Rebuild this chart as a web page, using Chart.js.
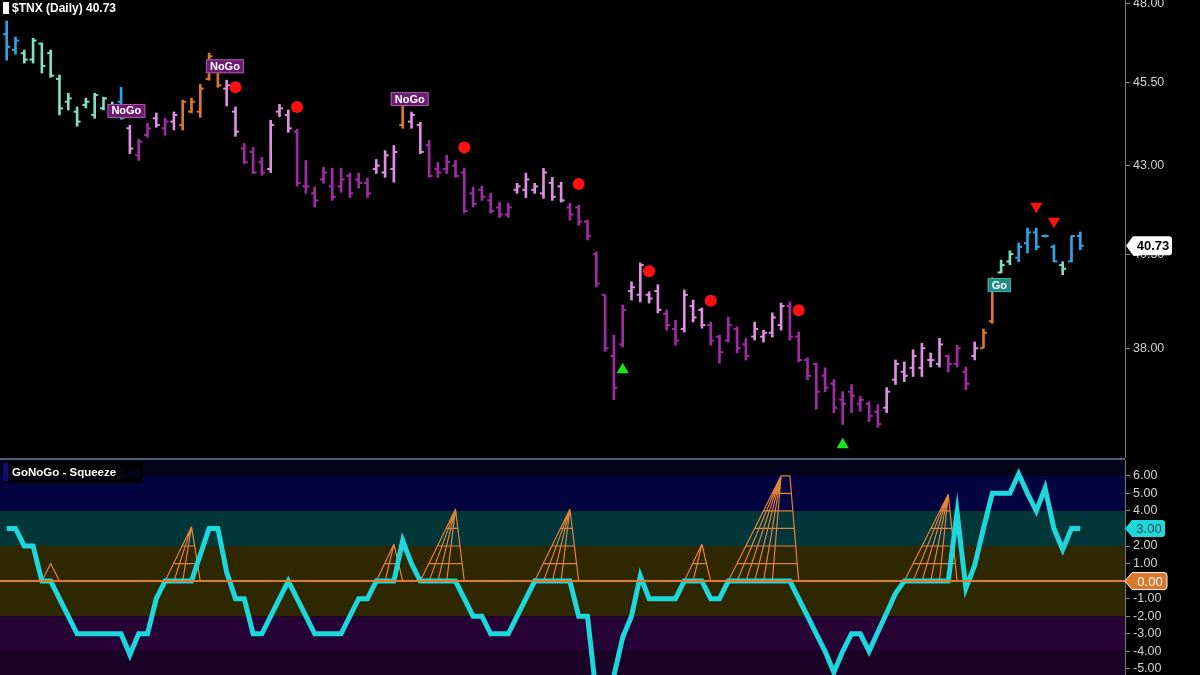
<!DOCTYPE html>
<html>
<head>
<meta charset="utf-8">
<script src="https://cdn.jsdelivr.net/npm/chart.js@4.4.1/dist/chart.umd.min.js"></script>
<style>
  html, body { margin: 0; padding: 0; background: #000; }
  #wrap { position: relative; width: 1200px; height: 675px; overflow: hidden; background: #000; font-family: "Liberation Sans", Arial, sans-serif; }
  #priceBox { position: absolute; left: 0; top: 0; width: 1200px; height: 458px; }
  #sqBox { position: absolute; left: 0; top: 460px; width: 1200px; height: 215px; }
  #sep { position: absolute; left: 0; top: 458px; width: 1125px; height: 2px; background: #4f6070; }
  #title { position: absolute; left: 12px; top: 1px; color: #fff; font-weight: bold; font-size: 12px; line-height: 14px; }
  #titleMark { position: absolute; left: 3px; top: 2px; width: 6px; height: 12px; background: #fff; }
  #sqHead { position: absolute; left: 3px; top: 462px; width: 140px; height: 21px; background: rgba(0,0,0,0.9); }
  #sqMark { position: absolute; left: 3px; top: 463px; width: 5px; height: 18px; background: #0c0c7a; }
  #sqTitle { position: absolute; left: 12px; top: 465px; color: #fff; font-weight: bold; font-size: 11.5px; line-height: 14px; }
  #sqVal { position: absolute; left: 119px; top: 466px; color: #0a0a4a; font-size: 11px; line-height: 14px; }
</style>
</head>
<body>
<div id="wrap">
  <div id="priceBox"><canvas id="priceChart"></canvas></div>
  <div id="sep"></div>
  <div id="sqBox"><canvas id="sqChart"></canvas></div>
  <div id="titleMark"></div>
  <div id="title"></div>
  <div id="sqHead"></div>
  <div id="sqMark"></div>
  <div id="sqTitle">GoNoGo - Squeeze</div>
  <div id="sqVal">1.00</div>
</div>
<script>
// daily bars
const highs = [47.42,46.91,46.50,46.87,46.72,46.50,45.72,45.16,44.74,45.01,
  45.16,45.04,44.89,45.34,44.19,43.77,44.25,44.56,44.40,44.59,
  44.95,45.01,45.43,46.40,46.18,45.56,44.74,43.65,43.53,43.24,
  44.34,44.82,44.65,44.07,43.15,42.38,42.95,42.92,42.92,42.78,
  42.78,42.64,43.18,43.44,43.59,44.89,44.59,44.28,43.74,43.09,
  43.30,43.15,42.92,42.38,42.41,42.20,41.95,41.92,42.49,42.78,
  42.49,42.92,42.66,42.52,41.92,41.86,41.44,40.56,39.39,38.34,
  39.13,39.75,40.26,39.48,39.67,39.00,38.73,39.53,39.26,39.05,
  38.68,38.34,38.81,38.55,38.26,38.68,38.47,38.92,39.18,39.21,
  38.42,37.75,37.62,37.50,37.20,36.90,37.08,36.78,36.65,36.58,
  37.00,37.70,37.65,37.96,38.13,37.88,38.26,37.83,38.08,37.52,
  38.16,38.50,39.86,40.34,40.59,40.81,41.22,41.22,41.03,40.75,
  40.29,41.00,41.11]
const lows = [46.18,46.37,46.09,46.09,45.78,45.65,44.50,44.65,44.16,44.71,
  44.40,44.65,44.59,44.37,43.35,43.15,43.83,44.13,43.89,44.05,
  44.05,44.56,44.43,45.56,45.34,44.77,43.86,43.06,42.77,42.72,
  42.80,44.45,43.98,42.41,42.20,41.81,42.49,42.00,42.23,42.08,
  42.35,42.08,42.77,42.66,42.52,44.10,44.10,43.35,42.66,42.66,
  42.77,42.66,41.64,41.81,42.00,41.64,41.52,41.52,42.20,42.08,
  42.20,42.06,42.00,41.95,41.44,41.30,40.89,39.61,37.92,36.70,
  38.03,39.26,39.21,39.18,38.92,38.47,38.08,38.42,38.68,38.52,
  38.08,37.62,38.16,37.88,37.70,38.21,38.16,38.29,38.47,38.21,
  37.65,37.20,36.46,36.90,36.38,36.09,36.38,36.41,36.16,36.02,
  36.38,37.08,37.15,37.28,37.28,37.52,37.52,37.40,37.52,36.95,
  37.70,38.01,38.65,39.99,40.21,40.29,40.53,40.62,40.97,40.29,
  39.94,40.29,40.62]
const opens = [47.0,46.5,46.4,46.2,46.7,46.4,45.6,44.9,44.6,44.8,
  44.5,44.7,44.8,44.9,44.1,43.3,43.9,44.4,44.1,44.3,
  44.2,44.6,44.6,45.6,46.0,45.3,44.6,43.5,43.4,43.1,
  42.9,44.6,44.5,44.0,42.4,42.2,42.6,42.4,42.4,42.7,
  42.6,42.5,42.9,42.8,42.9,44.2,44.3,44.2,43.6,42.9,
  42.9,43.0,42.8,42.2,42.3,42.0,41.8,41.6,42.3,42.3,
  42.3,42.2,42.5,42.4,41.8,41.8,41.4,40.5,39.4,37.8,
  38.1,39.5,39.4,39.4,39.5,38.9,38.5,38.5,39.1,39.0,
  38.6,38.3,38.2,38.5,38.1,38.3,38.3,38.4,38.6,39.1,
  38.3,37.7,37.6,37.3,37.1,36.7,36.9,36.6,36.6,36.4,
  36.5,37.2,37.4,37.5,37.5,37.7,37.6,37.8,37.6,37.4,
  37.8,38.0,38.7,40.0,40.3,40.4,40.8,41.1,41.0,40.7,
  40.2,40.3,41.0]
const closes = [46.6,46.8,46.2,46.8,46.0,45.7,44.7,45.0,44.3,44.9,
  45.1,45.0,44.7,44.4,43.5,43.7,44.1,44.2,44.3,44.5,
  44.9,44.9,45.3,46.3,45.4,45.4,44.0,43.1,42.8,42.8,
  44.2,44.7,44.1,42.5,42.4,42.0,42.8,42.1,42.6,42.2,
  42.5,42.2,43.0,43.3,43.4,44.8,44.5,43.4,42.7,42.8,
  43.1,42.7,41.7,41.9,42.1,41.7,41.6,41.8,42.4,42.6,
  42.4,42.8,42.1,42.0,41.6,41.4,41.0,39.7,38.0,37.0,
  39.0,39.6,40.2,39.3,39.0,38.6,38.2,39.4,38.8,38.6,
  38.2,37.9,38.6,38.0,37.8,38.5,38.4,38.8,39.1,38.3,
  37.7,37.3,36.9,37.0,36.5,36.6,36.8,36.7,36.3,36.1,
  36.9,37.6,37.3,37.8,38.0,37.7,38.1,37.6,38.0,37.1,
  38.0,38.4,39.8,40.2,40.5,40.7,41.1,40.7,41.0,40.3,
  40.1,41.0,40.73]
// b = strong go, g = weak go, o = neutral, p = weak nogo, m = strong nogo
const barState = ('bbgggggggggggbpmmpmpoooooppmmmpppmmmmmmmmmpppoppmmmmmmmmmm' +
  'ppppppmmmmmmmppppmmpppmmmmmppppmmmmmmmmmmmpppppppmmmpoogg' +
  'bbbbbgbb').split('')
const stateColor = { b: '#2ea3e6', g: '#80dfc0', o: '#d8792e', p: '#de8fe2', m: '#a02ba3' }

const priceTicks = [38, 40.5, 43, 45.5, 48]

// signal marks
const dotIdx = [26, 33, 52, 65, 73, 80, 90]
const dotVal = [45.34, 44.74, 43.53, 42.47, 40.03, 39.24, 38.99]
const upIdx = [70, 95]
const upVal = [37.45, 35.60]
const downIdx = [117, 119]
const downVal = [41.83, 41.41]
const tagIdx = [13.6, 24.8, 45.8, 112.8]
const tagVal = [44.62, 45.99, 44.98, 39.66]
const tagText = ['NoGo', 'NoGo', 'NoGo', 'Go']

// oscillator, one value per bar
const osc = [3,3,2,2,0,0,-1,-2,-3,-3,
  -3,-3,-3,-3,-4.2,-3,-3,-1,0,0,
  0,0,1.5,3,3,0.5,-1,-1,-3,-3,
  -2,-1,0,-1,-2,-3,-3,-3,-3,-2,
  -1,-1,0,0,0,2.3,1,0,0,0,
  0,0,-1,-2,-2,-3,-3,-3,-2,-1,
  0,0,0,0,0,-2,-2,-6.5,-7,-5.4,
  -3.2,-2,0.3,-1,-1,-1,-1,0,0,0,
  -1,-1,0,0,0,0,0,0,0,0,
  -1,-2,-3,-4,-5.2,-4,-3,-3,-4,-2.9,
  -1.8,-0.7,0,0,0,0,0,0,3.9,-0.4,
  0.9,3,5,5,5,6.1,5,4,5.3,3,
  1.8,3,3]
const oscTicks = [-5,-4,-3,-2,-1,0,1,2,3,4,5,6]

// squeeze events: start bar, peak bar, peak end bar, peak height, end bar
const sqStart = [4, 18, 42, 47, 60, 77, 82, 102]
const sqPeak = [5, 21, 44, 51, 64, 79, 88, 107]
const sqPeakEnd = [5, 21, 44, 51, 64, 79, 89, 107]
const sqTop = [1, 3.1, 2.1, 4.1, 4.1, 2.1, 6, 4.95]
const sqEnd = [6, 22, 45, 52, 65, 80, 90, 108]

const bandFrom = [6, 4, 2, -2, -4, -20]
const bandTo = [20, 6, 4, 2, -2, -4]
const bandColor = ['#04041a', '#03033f', '#023638', '#2e2700', '#270335', '#1b0227']

const xMin = -0.76
const xMax = 127.08
const last = closes.length - 1
const FONT = '"Liberation Sans", Arial, sans-serif'

Chart.defaults.font.family = FONT
document.getElementById('title').textContent = '$TNX (Daily) ' + closes[last].toFixed(2)

const barColors = barState.map(s => stateColor[s])

const axisStyle = {
    position: 'right',
    afterFit: (s) => {
        s.width = 75
        // let the plot run to the canvas edges, labels may be cut like the original
        s.paddingTop = 0
        s.paddingBottom = 0
    },
    grid: { display: true, drawOnChartArea: false, drawTicks: true, tickLength: 5, color: '#8a8a8a' },
    border: { display: true, color: '#7a7a7a', width: 1 },
    ticks: {
        color: '#d2d2d2',
        padding: 3,
        autoSkip: false,
        font: { size: 12.5, family: FONT },
        callback: (v) => Number(v).toFixed(2)
    }
}

const xAxis = { type: 'linear', min: xMin, max: xMax, offset: false, display: false }

// price tag pointing left at the axis
const axisTag = (ctx, x, y, w, h, fill, stroke, text, textColor, font) => {
    ctx.save()
    ctx.beginPath()
    ctx.moveTo(x, y)
    ctx.lineTo(x + 7, y - h / 2)
    ctx.lineTo(x + w - 3, y - h / 2)
    ctx.quadraticCurveTo(x + w, y - h / 2, x + w, y - h / 2 + 3)
    ctx.lineTo(x + w, y + h / 2 - 3)
    ctx.quadraticCurveTo(x + w, y + h / 2, x + w - 3, y + h / 2)
    ctx.lineTo(x + 7, y + h / 2)
    ctx.closePath()
    ctx.fillStyle = fill
    ctx.fill()
    if (stroke) {
        ctx.strokeStyle = stroke
        ctx.lineWidth = 1
        ctx.stroke()
    }
    ctx.fillStyle = textColor
    ctx.font = font
    ctx.textBaseline = 'middle'
    ctx.textAlign = 'center'
    ctx.fillText(text, x + 4 + w / 2, y + 1)
    ctx.restore()
}

const priceDecor = {
    id: 'priceDecor',
    afterDatasetsDraw(chart) {
        const { ctx, scales } = chart
        ctx.save()
        ctx.font = 'bold 11px ' + FONT
        tagText.forEach((t, n) => {
            const cx = scales.x.getPixelForValue(tagIdx[n])
            const cy = scales.y.getPixelForValue(tagVal[n])
            const w = ctx.measureText(t).width + 8
            const go = t === 'Go'
            ctx.fillStyle = go ? '#1f8a82' : '#6c1c6e'
            ctx.fillRect(cx - w / 2, cy - 7, w, 14)
            ctx.strokeStyle = go ? '#3fb0a8' : '#a45aa6'
            ctx.lineWidth = 1
            ctx.strokeRect(cx - w / 2 + 0.5, cy - 6.5, w - 1, 13)
            ctx.fillStyle = '#fff'
            ctx.textAlign = 'center'
            ctx.textBaseline = 'middle'
            ctx.fillText(t, cx, cy + 0.5)
        })
        ctx.restore()
    },
    afterDraw(chart) {
        const { ctx, chartArea, scales } = chart
        const y = scales.y.getPixelForValue(closes[last])
        axisTag(ctx, chartArea.right + 1, y, 46, 19, '#ffffff', null,
            closes[last].toFixed(2), '#000', 'bold 13px ' + FONT)
    }
}

new Chart(document.getElementById('priceChart'), {
    data: {
        datasets: [
            {
                type: 'scatter',
                data: dotIdx.map((v, i) => ({ x: v, y: dotVal[i] })),
                pointStyle: 'circle', radius: 6, backgroundColor: '#ff1010', borderWidth: 0,
                order: 0
            },
            {
                type: 'scatter',
                data: upIdx.map((v, i) => ({ x: v, y: upVal[i] })),
                pointStyle: 'triangle', radius: 7, backgroundColor: '#19e619', borderWidth: 0,
                order: 0
            },
            {
                type: 'scatter',
                data: downIdx.map((v, i) => ({ x: v, y: downVal[i] })),
                pointStyle: 'triangle', rotation: 180, radius: 7, backgroundColor: '#ff1010', borderWidth: 0,
                order: 0
            },
            {
                type: 'scatter',
                data: opens.map((v, i) => ({ x: i, y: v })),
                pointStyle: 'dash', rotation: 180, radius: 3.5, borderWidth: 2,
                borderColor: barColors, backgroundColor: barColors,
                order: 1
            },
            {
                type: 'scatter',
                data: closes.map((v, i) => ({ x: i, y: v })),
                pointStyle: 'dash', rotation: 0, radius: 3.5, borderWidth: 2,
                borderColor: barColors, backgroundColor: barColors,
                order: 1
            },
            {
                type: 'bar',
                data: highs.map((h, i) => ({ x: i, y: [lows[i], h] })),
                backgroundColor: barColors,
                barThickness: 2,
                grouped: false,
                order: 2
            }
        ]
    },
    options: {
        animation: false,
        responsive: true,
        maintainAspectRatio: false,
        layout: { padding: 0, autoPadding: false },
        events: [],
        plugins: { legend: { display: false }, tooltip: { enabled: false } },
        scales: {
            x: xAxis,
            y: {
                ...axisStyle,
                type: 'logarithmic',
                min: 35.28,
                max: 48.1,
                afterBuildTicks: (s) => { s.ticks = priceTicks.map(v => ({ value: v })) }
            }
        }
    },
    plugins: [priceDecor]
})

// squeeze ladder segments built from the event table
const meshPoints = () => {
    const pts = []
    const seg = (x1, y1, x2, y2) => { pts.push({ x: x1, y: y1 }, { x: x2, y: y2 }, { x: x2, y: null }) }
    sqStart.forEach((a, n) => {
        const p = sqPeak[n], pe = sqPeakEnd[n], h = sqTop[n], e = sqEnd[n]
        for (let j = a; j < p; j++) seg(j, 0, p, h)
        if (pe > p) seg(p, h, pe, h)
        seg(pe, h, e, 0)
        for (let k = 1; k <= h; k++) {
            const xl = a + (p - a) * k / h
            const xr = pe + (e - pe) * (1 - k / h)
            seg(xl, k, xr, k)
        }
    })
    return pts
}

const sqDecor = {
    id: 'sqDecor',
    beforeDatasetsDraw(chart) {
        const { ctx, chartArea, scales } = chart
        ctx.save()
        bandFrom.forEach((lo, n) => {
            const top = Math.max(chartArea.top, scales.y.getPixelForValue(bandTo[n]))
            const bot = Math.min(chartArea.bottom, scales.y.getPixelForValue(lo))
            if (bot <= top) return
            ctx.fillStyle = bandColor[n]
            ctx.fillRect(chartArea.left, top, chartArea.right - chartArea.left, bot - top)
        })
        ctx.restore()
    },
    afterDraw(chart) {
        const { ctx, chartArea, scales } = chart
        const yo = scales.y.getPixelForValue(osc[last])
        axisTag(ctx, chartArea.right, yo, 40, 17, '#22d6de', null,
            osc[last].toFixed(2), '#0b4d55', '13px ' + FONT)
        const yz = scales.y.getPixelForValue(0)
        axisTag(ctx, chartArea.right, yz, 42, 17, '#d8772c', '#ffffff',
            (0).toFixed(2), '#ffffff', '13px ' + FONT)
    }
}

new Chart(document.getElementById('sqChart'), {
    type: 'line',
    data: {
        datasets: [
            {
                data: [{ x: xMin, y: 0 }, { x: xMax, y: 0 }],
                borderColor: '#e07a2c', borderWidth: 2, pointRadius: 0,
                order: 0
            },
            {
                data: osc.map((v, i) => ({ x: i, y: v })),
                borderColor: '#1cd8dc', borderWidth: 5, pointRadius: 0,
                borderJoinStyle: 'miter', tension: 0,
                order: 1
            },
            {
                data: meshPoints(),
                borderColor: '#e3843a', borderWidth: 1.2, pointRadius: 0,
                spanGaps: false,
                order: 2
            }
        ]
    },
    options: {
        animation: false,
        responsive: true,
        maintainAspectRatio: false,
        layout: { padding: 0, autoPadding: false },
        events: [],
        plugins: { legend: { display: false }, tooltip: { enabled: false } },
        scales: {
            x: xAxis,
            y: {
                ...axisStyle,
                type: 'linear',
                min: -5.35,
                max: 6.9,
                afterBuildTicks: (s) => { s.ticks = oscTicks.map(v => ({ value: v })) }
            }
        }
    },
    plugins: [sqDecor]
})
</script>
</body>
</html>
